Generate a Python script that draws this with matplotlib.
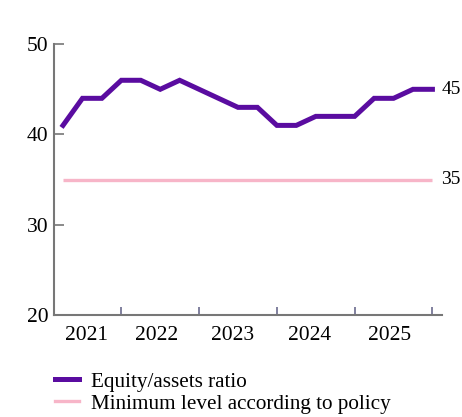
import matplotlib.pyplot as plt
from matplotlib.lines import Line2D

plt.rcParams['font.family'] = ['Liberation Serif', 'DejaVu Serif']

# quarterly values, 2021 Q1 .. 2025 Q4
quarters = list(range(20))
equity_ratio = [41, 44, 44, 46, 46, 45, 46, 45, 44, 43,
                43, 41, 41, 42, 42, 42, 44, 44, 45, 45]
policy_min = [35] * 20
years = ["2021", "2022", "2023", "2024", "2025"]
year_label_pos = [1.2, 4.8, 8.7, 12.7, 16.8]
year_end_pos = [3, 7, 11, 15, 19]

purple = "#5a0ca0"
pink = "#f7b5c8"

fig = plt.figure(figsize=(4.62, 4.17), dpi=100)
ax = fig.add_axes([0.117, 0.245, 0.840, 0.649])

ax.plot(quarters, policy_min, color=pink, lw=2.4, solid_capstyle="butt")
ax.plot(quarters, equity_ratio, color=purple, lw=3.6, solid_joinstyle="miter")

ax.set_xlim(-0.46, 19.5)
ax.set_ylim(20, 50)
ax.set_yticks([20, 30, 40, 50])

ax.set_xticks(year_end_pos)
ax.set_xticklabels([])
ax.set_xticks(year_label_pos, minor=True)
ax.set_xticklabels(years, minor=True)

ax.tick_params(axis="y", direction="in", length=7, width=1.2, color="#777777",
               labelsize=15.5, pad=4)
ax.tick_params(axis="x", which="major", direction="in", length=6, width=1.2,
               color="#6b6b8e")
ax.tick_params(axis="x", which="minor", length=0, labelsize=15.5, pad=8)

for side in ["top", "right"]:
    ax.spines[side].set_visible(False)
for side in ["left", "bottom"]:
    ax.spines[side].set_color("#777777")
    ax.spines[side].set_linewidth(1.5)

# end-of-line value labels
ax.text(19.45, equity_ratio[-1], "45", va="center", ha="left", fontsize=14,
        clip_on=False)
ax.text(19.45, policy_min[-1], "35", va="center", ha="left", fontsize=14,
        clip_on=False)

handles = [Line2D([], [], color=purple, lw=3.6),
           Line2D([], [], color=pink, lw=2.4)]
fig.legend(handles, ["Equity/assets ratio", "Minimum level according to policy"],
           loc="upper left", bbox_to_anchor=(0.119, 0.108), frameon=False,
           fontsize=15.2, handlelength=1.16, handletextpad=0.55, labelspacing=0.1,
           borderaxespad=0, borderpad=0)

fig.savefig("out.png", dpi=100)
